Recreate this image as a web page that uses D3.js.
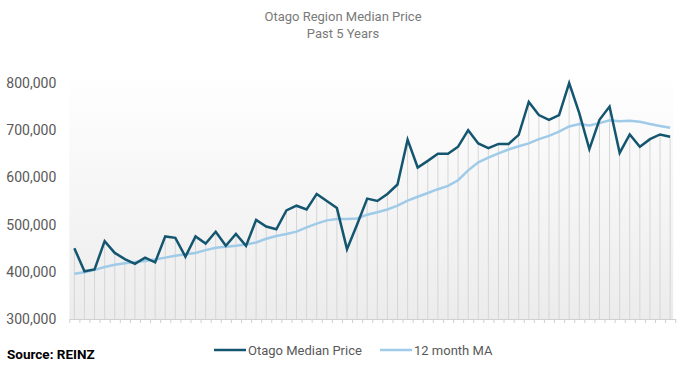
<!DOCTYPE html>
<html>
<head>
<meta charset="utf-8">
<script src="https://cdn.jsdelivr.net/npm/d3@7"></script>
<style>
  body { margin: 0; background: #fff; }
  text { font-family: "Roboto", "Liberation Sans", sans-serif; }
</style>
</head>
<body>
<script>
// monthly values, oldest first (60 months)
var months = d3.range(60);

var medianPrice = [
  450000, 401000, 405000, 465000, 440000, 427000, 417000, 430000, 420000, 475000,
  472000, 432000, 475000, 460000, 485000, 455000, 480000, 455000, 510000, 496000,
  490000, 530000, 540000, 532000, 565000, 550000, 535000, 448000, 500000, 555000,
  550000, 565000, 585000, 680000, 621000, 635000, 650000, 650000, 665000, 700000,
  672000, 662000, 671000, 671000, 690000, 760000, 732000, 722000, 732000, 800000,
  736000, 660000, 722000, 750000, 652000, 691000, 665000, 681000, 691000, 686000
];

var movingAvg = [
  396000, 399000, 404000, 410000, 415000, 418000, 421000, 423000, 426000, 430000,
  434000, 437000, 440000, 446000, 451000, 453000, 455000, 458000, 462000, 470000,
  476000, 480000, 485000, 494000, 502000, 509000, 512000, 512000, 513000, 521000,
  526000, 532000, 540000, 551000, 559000, 567000, 575000, 582000, 594000, 615000,
  632000, 642000, 651000, 659000, 666000, 672000, 681000, 688000, 697000, 708000,
  713000, 710000, 715000, 721000, 719000, 720000, 718000, 713000, 709000, 705000
];

var yTicks = [300000, 400000, 500000, 600000, 700000, 800000];
var seriesNames = ["Otago Median Price", "12 month MA"];
var seriesColors = ["#14566f", "#9fcbe8"];

var width = 686,
    height = 367;

var plotLeft = 69.3, plotRight = 675.2, plotTop = 83, plotBottom = 319;

var svg = d3.select("body").append("svg")
    .attr("width", width)
    .attr("height", height);

var x = d3.scaleBand()
    .domain(months)
    .range([plotLeft, plotRight]);

var xEdge = d3.scaleLinear()
    .domain([0, months.length])
    .range([plotLeft, plotRight]);

var y = d3.scaleLinear()
    .domain([300000, 800000])
    .range([plotBottom, plotTop]);

function cx(i) { return x(i) + x.bandwidth() / 2; }

// plot background, white on top fading to grey
var grad = svg.append("defs").append("linearGradient")
    .attr("id", "bg")
    .attr("x1", 0).attr("y1", 0).attr("x2", 0).attr("y2", 1);
grad.append("stop").attr("offset", "0%").attr("stop-color", "#ffffff");
grad.append("stop").attr("offset", "100%").attr("stop-color", "#ececec");

svg.append("rect")
    .attr("x", plotLeft)
    .attr("y", 70)
    .attr("width", plotRight - plotLeft - 2)
    .attr("height", plotBottom - 70)
    .attr("fill", "url(#bg)");

// drop lines
svg.append("g").selectAll("line")
    .data(months)
  .enter().append("line")
    .attr("x1", function(i) { return cx(i); })
    .attr("x2", function(i) { return cx(i); })
    .attr("y1", function(i) { return y(medianPrice[i]); })
    .attr("y2", plotBottom)
    .attr("stroke", "#d6d6d6")
    .attr("stroke-width", 1);

// titles
svg.append("text")
    .attr("x", 343).attr("y", 21)
    .attr("text-anchor", "middle")
    .attr("font-size", 13)
    .attr("fill", "#7a7a7a")
    .text("Otago Region Median Price");

svg.append("text")
    .attr("x", 343).attr("y", 38)
    .attr("text-anchor", "middle")
    .attr("font-size", 13)
    .attr("fill", "#7a7a7a")
    .text("Past 5 Years");

// y axis
var yAxis = svg.append("g")
    .attr("transform", "translate(" + plotLeft + ",0)")
    .call(d3.axisLeft(y)
      .tickValues(yTicks)
      .tickFormat(d3.format(","))
      .tickSize(0)
      .tickPadding(13));

yAxis.select(".domain").remove();
yAxis.selectAll("text")
    .attr("font-size", 14)
    .attr("fill", "#595959")
    .style("font-family", "Roboto, sans-serif");

// x axis, ticks between months
var xAxis = svg.append("g")
    .attr("transform", "translate(0," + plotBottom + ")")
    .call(d3.axisBottom(xEdge)
      .tickValues(d3.range(months.length + 1))
      .tickFormat("")
      .tickSize(4)
      .tickSizeOuter(0));

xAxis.select(".domain").attr("stroke", "#d0d0d0");
xAxis.selectAll(".tick line").attr("stroke", "#d0d0d0");

// lines
var line = d3.line()
    .x(function(d, i) { return cx(i); })
    .y(function(d) { return y(d); });

svg.append("path")
    .datum(movingAvg)
    .attr("fill", "none")
    .attr("stroke", seriesColors[1])
    .attr("stroke-width", 2.5)
    .attr("d", line);

svg.append("path")
    .datum(medianPrice)
    .attr("fill", "none")
    .attr("stroke", seriesColors[0])
    .attr("stroke-width", 2.5)
    .attr("d", line);

// legend
var legendX = [214, 380];
var legend = svg.append("g").selectAll("g")
    .data(seriesNames)
  .enter().append("g")
    .attr("transform", function(d, i) { return "translate(" + legendX[i] + ",350)"; });

legend.append("line")
    .attr("x1", 0).attr("x2", 32)
    .attr("stroke", function(d, i) { return seriesColors[i]; })
    .attr("stroke-width", 2.5);

legend.append("text")
    .attr("x", 34).attr("y", 4.5)
    .attr("font-size", 13)
    .attr("fill", "#595959")
    .text(function(d) { return d; });

// source
svg.append("text")
    .attr("x", 7).attr("y", 359)
    .attr("font-size", 13.5)
    .attr("font-weight", "bold")
    .attr("fill", "#000")
    .text("Source: REINZ");
</script>
</body>
</html>
